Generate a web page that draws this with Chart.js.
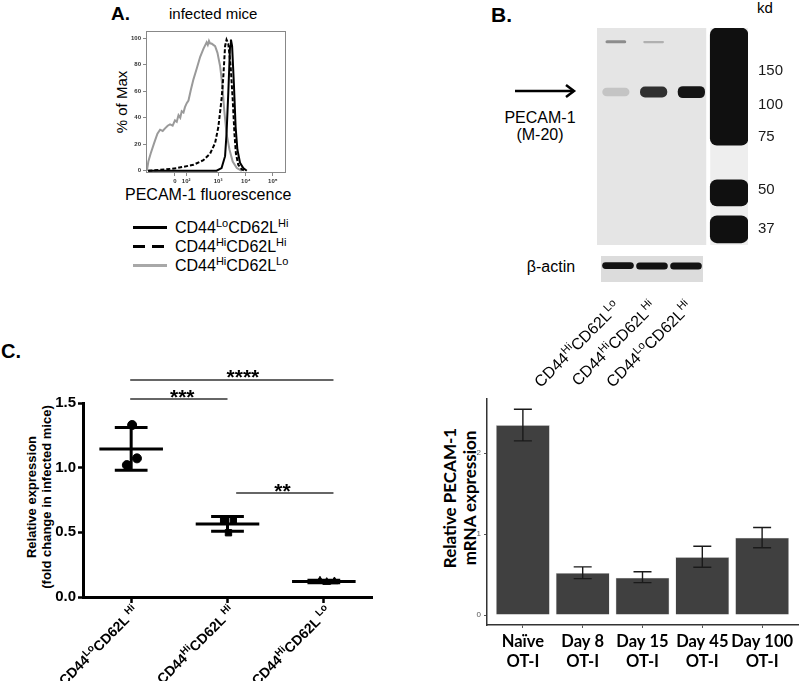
<!DOCTYPE html>
<html lang="en">
<head>
<meta charset="UTF-8">
<title>PECAM-1 expression</title>
<style>
  body { margin: 0; background: #fff; }
  #page { position: relative; width: 800px; height: 681px; overflow: hidden;
          font-family: "Liberation Sans", Arial, sans-serif; color: #000; }
  canvas { position: absolute; }
  .t { position: absolute; white-space: nowrap; line-height: 1; }
  .rot { transform: translate(-50%, -50%) rotate(-90deg); }
  .leg { position: absolute; left: 133px; width: 34px; height: 3px; }
  .legtxt { position: absolute; left: 175px; font-size: 16px; white-space: nowrap; line-height: 1; }
  .legtxt sup { font-size: 11px; vertical-align: 6px; line-height: 0; }
</style>
</head>
<body>
<div id="page">
  <!-- panel A text -->
  <div class="t" style="left:111px;top:4px;font-size:19px;font-weight:bold">A.</div>
  <div class="t" style="left:169px;top:6px;font-size:15px">infected mice</div>
  <div class="t rot" style="left:121px;top:102px;font-size:15px">% of Max</div>
  <div class="t" style="left:125px;top:187px;font-size:16px">PECAM-1 fluorescence</div>
  <div class="leg" style="top:226px;background:#000"></div>
  <div class="leg" style="top:245px;background:repeating-linear-gradient(90deg,#000 0 12px,transparent 12px 19px)"></div>
  <div class="leg" style="top:264px;background:#a8a8a8"></div>
  <div class="legtxt" style="top:220px">CD44<sup>Lo</sup>CD62L<sup>Hi</sup></div>
  <div class="legtxt" style="top:239px">CD44<sup>Hi</sup>CD62L<sup>Hi</sup></div>
  <div class="legtxt" style="top:258px">CD44<sup>Hi</sup>CD62L<sup>Lo</sup></div>

  <!-- panel B text -->
  <div class="t" style="left:491px;top:4px;font-size:21px;font-weight:bold">B.</div>
  <div class="t" style="left:757px;top:0px;font-size:15px">kd</div>
  <svg style="position:absolute;left:512px;top:84px" width="68" height="16">
    <line x1="3" y1="7" x2="62" y2="7" stroke="#000" stroke-width="2.5"/>
    <polyline points="54,1 62,7 54,13" fill="none" stroke="#000" stroke-width="2.5"/>
  </svg>
  <div class="t" style="left:540px;top:110px;font-size:16px;transform:translateX(-50%)">PECAM-1</div>
  <div class="t" style="left:540px;top:127px;font-size:16px;transform:translateX(-50%)">(M-20)</div>
  <div class="t" style="left:551px;top:259px;font-size:16px;transform:translateX(-50%)">β-actin</div>

  <!-- panel C text -->
  <div class="t" style="left:1px;top:341px;font-size:20px;font-weight:bold">C.</div>
  <div class="t rot" style="left:31px;top:497px;font-size:13px;font-weight:bold">Relative expression</div>
  <div class="t rot" style="left:46px;top:497px;font-size:13px;font-weight:bold">(fold change in infected mice)</div>
  <div class="t rot" style="left:449px;top:498px;font-size:17px;font-weight:bold;font-family:Lato">Relative PECAM-1</div>
  <div class="t rot" style="left:469px;top:498px;font-size:17px;font-weight:bold;font-family:Lato">mRNA expression</div>

  <canvas id="flowChart" width="200" height="170" style="left:100px;top:24px"></canvas>
  <canvas id="blotChart" width="200" height="235" style="left:590px;top:20px"></canvas>
  <canvas id="actinChart" width="183" height="140" style="left:520px;top:256px"></canvas>
  <canvas id="relChart" width="390" height="321" style="left:0px;top:360px"></canvas>
  <canvas id="mrnaChart" width="380" height="301" style="left:420px;top:380px"></canvas>
</div>

<script src="https://cdn.jsdelivr.net/npm/chart.js@4.4.1/dist/chart.umd.min.js"></script>
<script>
// ---------- panel A: flow histogram (x in decade display units) ----------
const flowTickPos = [1.52, 1.9, 2.99, 3.94, 4.86];
const flowTickLabels = ['0', '10²', '10³', '10⁴', '10⁵'];
const loHiX = [0.6, 2.94, 3.11, 3.23, 3.28, 3.34, 3.40, 3.43, 3.47, 3.53, 3.59, 3.65, 3.74, 3.85, 3.97];
const loHiY = [0, 0, 2, 11, 28, 59, 94, 99, 94, 66, 33, 16, 6, 2, 0];
const hiHiX = [0.61, 1.2, 1.58, 2.15, 2.49, 2.72, 2.89, 3.0, 3.11, 3.17, 3.23, 3.28, 3.34, 3.42, 3.49, 3.55, 3.60, 3.68, 3.80, 3.91];
const hiHiY = [0, 1, 2, 4.5, 8, 13, 21, 33, 54, 71, 94, 99, 96, 79, 54, 28, 13, 4.5, 1, 0];
const hiLoX = [0.56, 0.61, 0.69, 0.81, 0.92, 1.01, 1.1, 1.18, 1.27, 1.35, 1.44, 1.52, 1.58, 1.64, 1.7, 1.75, 1.81, 1.86, 1.92, 1.98,
               2.06, 2.15, 2.26, 2.38, 2.49, 2.60, 2.64, 2.68, 2.72, 2.77, 2.89, 2.97, 3.06, 3.14, 3.20, 3.28, 3.38, 3.49, 3.63, 3.80];
const hiLoY = [0, 7, 13, 21, 28, 31, 30, 32, 34, 35, 34, 38, 37, 42, 40, 45, 44, 48, 51, 53,
               61, 69, 77, 86, 92, 97, 95, 98, 96, 96, 94, 89, 79, 64, 46, 28, 16, 7, 2, 0];

// ---------- panel B: western blot (y = migration, 0 top .. 100 bottom) ----------
const laneNames = ['1', '2', '3', 'M'];
const pecamBand = [[27.5, 31.5], [27, 32], [26.8, 32.3], null];
const pecamShade = ['#c4c4c4', '#303030', '#151515'];
const smudgeBand = [[5.6, 7], [6, 7], null, null];
const ladderBands = [[0, 54], [70, 82], [86.5, 99]];
const markerKd = ['150', '100', '75', '50', '37'];
const markerPos = [19.8, 35.5, 50.2, 74.6, 92.6];
const actinBand = [[0.24, 0.5], [0.25, 0.52], [0.25, 0.52]];
const laneLabels = [
  [['CD44', 0], ['Hi', 1], ['CD62L', 0], ['Lo', 1]],
  [['CD44', 0], ['Hi', 1], ['CD62L', 0], ['Hi', 1]],
  [['CD44', 0], ['Lo', 1], ['CD62L', 0], ['Hi', 1]]
];

// ---------- panel C left: relative expression ----------
const groupLabels = [
  [['CD44', 0], ['Lo', 1], ['CD62L', 0], [' Hi', 1]],
  [['CD44', 0], ['Hi', 1], ['CD62L', 0], [' Hi', 1]],
  [['CD44', 0], ['Hi', 1], ['CD62L', 0], [' Lo', 1]]
];
const relCircles = [{x: 0.01, y: 1.33}, {x: -0.045, y: 1.02}, {x: 0.06, y: 1.072}];
const relSquares = [{x: 0.96, y: 0.595}, {x: 1.06, y: 0.595}, {x: 1.01, y: 0.497}];
const relTriangles = [{x: 1.96, y: 0.125}, {x: 2.03, y: 0.115}, {x: 2.11, y: 0.12}];
const relMean = [1.145, 0.565, 0.12];
const relSD = [0.165, 0.057, 0.01];
const sigBars = [
  {x1: -0.01, x2: 2.1, y: 1.678, tx: 1.16, ty: 1.74, label: '****'},
  {x1: -0.01, x2: 1.0, y: 1.53, tx: 0.53, ty: 1.585, label: '***'},
  {x1: 1.09, x2: 2.1, y: 0.804, tx: 1.57, ty: 0.858, label: '**'}
];

// ---------- panel C right: PECAM-1 mRNA ----------
const timeLabels = [['Naïve', 'OT-I'], ['Day 8', 'OT-I'], ['Day 15', 'OT-I'], ['Day 45', 'OT-I'], ['Day 100', 'OT-I']];
const mrnaMean = [2.345, 0.52, 0.46, 0.716, 0.955];
const mrnaLow = [2.15, 0.45, 0.40, 0.59, 0.83];
const mrnaHigh = [2.54, 0.595, 0.535, 0.85, 1.08];

// draws text with superscripts, right aligned at (x, y), rotated
function richText(ctx, parts, x, y, size, weight, family, rot) {
  ctx.save();
  ctx.translate(x, y);
  ctx.rotate(rot);
  ctx.textAlign = 'left';
  ctx.textBaseline = 'alphabetic';
  const fontOf = (sup) => `${weight} ${sup ? Math.round(size * 0.68) : size}px ${family}`;
  let w = 0;
  parts.forEach(([t, s]) => { ctx.font = fontOf(s); w += ctx.measureText(t).width; });
  let cx = -w;
  parts.forEach(([t, s]) => {
    ctx.font = fontOf(s);
    ctx.fillText(t, cx, s ? -size * 0.4 : 0);
    cx += ctx.measureText(t).width;
  });
  ctx.restore();
}

// keep tick label heights from shrinking the plot area
const noPad = (s) => { s.paddingTop = 0; s.paddingBottom = 0; };

Chart.defaults.font.family = '"Liberation Sans", Arial, sans-serif';
Chart.defaults.color = '#000';

// ===== A =====
const toPts = (xs, ys) => xs.map((x, i) => ({x: x, y: ys[i]}));
new Chart(document.getElementById('flowChart'), {
  type: 'line',
  data: {
    datasets: [
      {label: 'CD44loCD62Lhi', data: toPts(loHiX, loHiY), borderColor: '#000', borderWidth: 2, pointRadius: 0, tension: 0, order: 0},
      {label: 'CD44hiCD62Lhi', data: toPts(hiHiX, hiHiY), borderColor: '#000', borderWidth: 2, borderDash: [4, 2], pointRadius: 0, tension: 0, order: 1},
      {label: 'CD44hiCD62Llo', data: toPts(hiLoX, hiLoY), borderColor: '#9a9a9a', borderWidth: 2, pointRadius: 0, tension: 0, order: 2}
    ]
  },
  options: {
    responsive: false,
    animation: false,
    layout: {padding: {top: 7, right: 14, left: 0, bottom: 0}},
    plugins: {legend: {display: false}, tooltip: {enabled: false}},
    scales: {
      x: {
        type: 'linear', min: 0.53, max: 5.31,
        afterBuildTicks: (s) => { s.ticks = flowTickPos.map(v => ({value: v})); },
        afterFit: (s) => { s.height = 21; },
        ticks: {font: {size: 6, weight: 'bold'}, color: '#333', padding: 2, maxRotation: 0,
                callback: (v) => flowTickLabels[flowTickPos.indexOf(v)]},
        grid: {drawOnChartArea: false, tickLength: 3, color: '#888'},
        border: {display: false}
      },
      y: {
        min: -1.7, max: 105.5,
        afterBuildTicks: (s) => { s.ticks = [0, 20, 40, 60, 80, 100].map(v => ({value: v})); },
        afterFit: (s) => { s.width = 46; noPad(s); },
        ticks: {font: {size: 6, weight: 'bold'}, color: '#333', padding: 2},
        grid: {drawOnChartArea: false, tickLength: 3, color: '#888'},
        border: {display: false}
      }
    }
  },
  plugins: [{
    id: 'frame',
    afterDraw(chart) {
      const a = chart.chartArea, ctx = chart.ctx;
      ctx.save();
      ctx.strokeStyle = '#888';
      ctx.lineWidth = 1;
      ctx.strokeRect(a.left + 0.5, a.top + 0.5, a.right - a.left - 1, a.bottom - a.top - 1);
      ctx.restore();
    }
  }]
});

// ===== B: blot =====
const ladderSets = ladderBands.map((b, i) => ({
  label: 'ladder ' + i,
  data: [null, null, null, b],
  backgroundColor: '#101010',
  barPercentage: 1, categoryPercentage: 1, grouped: false,
  borderRadius: 7, borderSkipped: false
}));
new Chart(document.getElementById('blotChart'), {
  type: 'bar',
  data: {
    labels: laneNames,
    datasets: [
      {label: 'PECAM-1', data: pecamBand, backgroundColor: pecamShade, barPercentage: 0.72, categoryPercentage: 1,
       grouped: false, borderRadius: 5, borderSkipped: false},
      {label: 'smudge', data: smudgeBand, backgroundColor: ['#8c8c8c', '#b0b0b0'], barPercentage: 0.55, categoryPercentage: 1,
       grouped: false, borderRadius: 2, borderSkipped: false}
    ].concat(ladderSets)
  },
  options: {
    responsive: false,
    animation: false,
    layout: {padding: {top: 8, left: 7, bottom: 10, right: 0}},
    plugins: {legend: {display: false}, tooltip: {enabled: false}},
    scales: {
      x: {display: false},
      y: {
        position: 'right', reverse: true, min: 0, max: 100,
        afterBuildTicks: (s) => { s.ticks = markerPos.map(v => ({value: v})); },
        afterFit: (s) => { s.width = 42; noPad(s); },
        ticks: {font: {size: 15}, color: '#1a1a1a', padding: 10,
                callback: (v) => markerKd[markerPos.indexOf(v)]},
        grid: {display: false, drawTicks: false},
        border: {display: false}
      }
    }
  },
  plugins: [{
    id: 'membrane',
    beforeDatasetsDraw(chart) {
      const a = chart.chartArea, ctx = chart.ctx, x = chart.scales.x;
      const lane = x.getPixelForValue(1) - x.getPixelForValue(0);
      const split = x.getPixelForValue(2) + lane / 2;
      ctx.save();
      ctx.fillStyle = '#e5e5e5';
      ctx.fillRect(a.left, a.top, split - 4 - a.left, a.bottom - a.top);
      ctx.fillStyle = '#eeeeee';
      ctx.fillRect(split, a.top, a.right - split, a.bottom - a.top);
      ctx.restore();
    }
  }]
});

new Chart(document.getElementById('actinChart'), {
  type: 'bar',
  data: {
    labels: ['1', '2', '3'],
    datasets: [{label: 'β-actin', data: actinBand, backgroundColor: '#121212', barPercentage: 0.93, categoryPercentage: 1,
                borderRadius: 5, borderSkipped: false}]
  },
  options: {
    responsive: false,
    animation: false,
    layout: {padding: {top: 0, left: 81, bottom: 114, right: 0}},
    plugins: {legend: {display: false}, tooltip: {enabled: false}},
    scales: {
      x: {display: false},
      y: {display: false, reverse: true, min: 0, max: 1}
    }
  },
  plugins: [{
    id: 'actinBox',
    beforeDatasetsDraw(chart) {
      const a = chart.chartArea, ctx = chart.ctx;
      ctx.save();
      ctx.fillStyle = '#dcdcdc';
      ctx.fillRect(a.left, a.top, a.right - a.left, a.bottom - a.top);
      ctx.restore();
    },
    afterDraw(chart) {
      const ctx = chart.ctx, x = chart.scales.x, a = chart.chartArea;
      ctx.save();
      ctx.fillStyle = '#000';
      laneLabels.forEach((parts, i) => {
        richText(ctx, parts, x.getPixelForValue(i) + 3 + 2 * i, a.bottom + 26, 16, 'normal',
                 '"Liberation Sans", Arial, sans-serif', -Math.PI / 4);
      });
      ctx.restore();
    }
  }]
});

// ===== C left =====
new Chart(document.getElementById('relChart'), {
  type: 'scatter',
  data: {
    datasets: [
      {label: 'LoHi', data: relCircles, pointStyle: 'circle', pointRadius: 4.5, backgroundColor: '#000', borderColor: '#000'},
      {label: 'HiHi', data: relSquares, pointStyle: 'rect', pointRadius: 4.5, backgroundColor: '#000', borderColor: '#000'},
      {label: 'HiLo', data: relTriangles, pointStyle: 'triangle', pointRadius: 4.5, backgroundColor: '#000', borderColor: '#000'}
    ]
  },
  options: {
    responsive: false,
    animation: false,
    layout: {padding: {top: 43, right: 18, left: 0, bottom: 0}},
    plugins: {legend: {display: false}, tooltip: {enabled: false}},
    scales: {
      x: {
        type: 'linear', min: -0.5, max: 2.5,
        afterBuildTicks: (s) => { s.ticks = [0, 1, 2].map(v => ({value: v})); },
        afterFit: (s) => { s.height = 84; },
        ticks: {display: false},
        grid: {drawOnChartArea: false, tickLength: 6, tickWidth: 2.5, tickColor: '#000'},
        border: {width: 3, color: '#000'}
      },
      y: {
        min: 0, max: 1.5,
        afterBuildTicks: (s) => { s.ticks = [0, 0.5, 1, 1.5].map(v => ({value: v})); },
        afterFit: (s) => { s.width = 83; noPad(s); },
        ticks: {font: {size: 15, weight: 'bold'}, color: '#000', padding: 2, callback: (v) => v.toFixed(1)},
        grid: {drawOnChartArea: false, tickLength: 5, tickWidth: 2.5, tickColor: '#000'},
        border: {width: 3, color: '#000'}
      }
    }
  },
  plugins: [{
    id: 'meanSd',
    afterDatasetsDraw(chart) {
      const ctx = chart.ctx, x = chart.scales.x, y = chart.scales.y;
      ctx.save();
      ctx.strokeStyle = '#000';
      ctx.lineWidth = 3;
      relMean.forEach((m, i) => {
        const ym = y.getPixelForValue(m), yl = y.getPixelForValue(m - relSD[i]), yh = y.getPixelForValue(m + relSD[i]);
        ctx.beginPath();
        ctx.moveTo(x.getPixelForValue(i - 0.33), ym); ctx.lineTo(x.getPixelForValue(i + 0.33), ym);
        ctx.moveTo(x.getPixelForValue(i), yl); ctx.lineTo(x.getPixelForValue(i), yh);
        ctx.moveTo(x.getPixelForValue(i - 0.17), yl); ctx.lineTo(x.getPixelForValue(i + 0.17), yl);
        ctx.moveTo(x.getPixelForValue(i - 0.17), yh); ctx.lineTo(x.getPixelForValue(i + 0.17), yh);
        ctx.stroke();
      });
      ctx.restore();
    },
    afterDraw(chart) {
      const ctx = chart.ctx, x = chart.scales.x, y = chart.scales.y, a = chart.chartArea;
      ctx.save();
      ctx.strokeStyle = '#333';
      ctx.lineWidth = 1.5;
      ctx.fillStyle = '#000';
      ctx.textAlign = 'center';
      ctx.textBaseline = 'alphabetic';
      ctx.font = 'bold 21px "Liberation Sans", Arial, sans-serif';
      sigBars.forEach(b => {
        const yy = y.getPixelForValue(b.y);
        ctx.beginPath();
        ctx.moveTo(x.getPixelForValue(b.x1), yy);
        ctx.lineTo(x.getPixelForValue(b.x2), yy);
        ctx.stroke();
        ctx.fillText(b.label, x.getPixelForValue(b.tx), y.getPixelForValue(b.ty) + 12);
      });
      groupLabels.forEach((parts, i) => {
        richText(ctx, parts, x.getPixelForValue(i) + 8, a.bottom + 15, 14, 'bold',
                 '"Liberation Sans", Arial, sans-serif', -Math.PI / 4);
      });
      ctx.restore();
    }
  }]
});

// ===== C right =====
new Chart(document.getElementById('mrnaChart'), {
  type: 'bar',
  data: {
    datasets: [{
      label: 'Relative PECAM-1 mRNA',
      data: mrnaMean.map((v, i) => ({x: i + 1, y: v})),
      backgroundColor: '#404040',
      borderColor: '#d0d0d0',
      borderWidth: 0.6,
      barPercentage: 0.9,
      categoryPercentage: 1
    }]
  },
  options: {
    responsive: false,
    animation: false,
    layout: {padding: {top: 19, right: 2, left: 0, bottom: 0}},
    plugins: {legend: {display: false}, tooltip: {enabled: false}},
    scales: {
      x: {
        type: 'linear', min: 0.4, max: 5.6, offset: false,
        afterBuildTicks: (s) => { s.ticks = [1, 2, 3, 4, 5].map(v => ({value: v})); },
        afterFit: (s) => { s.height = 56; },
        ticks: {font: {size: 16.5, weight: 'bold', family: 'Lato', lineHeight: 1.25}, color: '#000', padding: 3, maxRotation: 0,
                callback: (v) => timeLabels[v - 1]},
        grid: {drawOnChartArea: false, offset: false, tickLength: 3, tickColor: '#555'},
        border: {width: 1.5, color: '#333'}
      },
      y: {
        min: -0.123, max: 2.667,
        afterBuildTicks: (s) => { s.ticks = [0, 1, 2].map(v => ({value: v})); },
        afterFit: (s) => { s.width = 67; noPad(s); },
        ticks: {font: {size: 8}, color: '#555', padding: 3},
        grid: {drawOnChartArea: false, tickLength: 3, tickColor: '#555'},
        border: {width: 1.5, color: '#333'}
      }
    }
  },
  plugins: [{
    id: 'errBars',
    afterDatasetsDraw(chart) {
      const ctx = chart.ctx, x = chart.scales.x, y = chart.scales.y;
      ctx.save();
      ctx.strokeStyle = '#1a1a1a';
      ctx.lineWidth = 1.4;
      mrnaMean.forEach((m, i) => {
        const cx = x.getPixelForValue(i + 1), yl = y.getPixelForValue(mrnaLow[i]), yh = y.getPixelForValue(mrnaHigh[i]);
        ctx.beginPath();
        ctx.moveTo(cx, yl); ctx.lineTo(cx, yh);
        ctx.moveTo(cx - 9, yl); ctx.lineTo(cx + 9, yl);
        ctx.moveTo(cx - 9, yh); ctx.lineTo(cx + 9, yh);
        ctx.stroke();
      });
      ctx.restore();
    }
  }]
});
</script>
</body>
</html>
